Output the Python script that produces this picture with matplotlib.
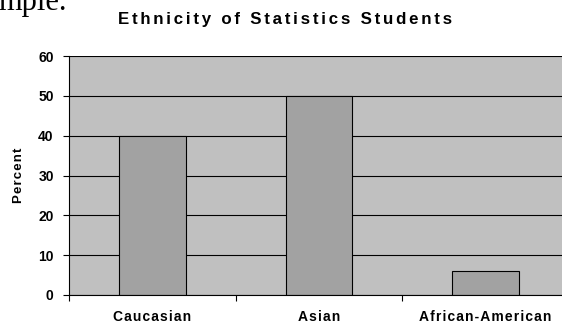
import matplotlib
matplotlib.use('Agg')
import matplotlib.pyplot as plt

# data
groups = ['Caucasian', 'Asian', 'African-American']
percent = [40, 50, 6]
yticks = [0, 10, 20, 30, 40, 50, 60]

plt.rcParams['font.family'] = ['Liberation Sans', 'DejaVu Sans']
plt.rcParams['font.weight'] = 'bold'

def spaced(s, gap='\u200a'):
	# the original chart uses wide letter spacing
	return gap.join(s)

fig = plt.figure(figsize=(5.62, 3.28), dpi=100)
ax = fig.add_axes([69/562, 1 - 295/328, 500/562, 239/328])
ax.set_facecolor('#c0c0c0')

ax.set_axisbelow(True)
ax.yaxis.grid(True, color='black', linewidth=0.8)
ax.bar(range(len(groups)), percent, width=0.4, color='#a2a2a2',
	edgecolor='black', linewidth=0.8, zorder=2)

ax.set_xlim(-0.5, 2.5)
ax.set_ylim(0, 60)
ax.set_yticks(yticks)
ax.set_yticklabels([str(v) for v in yticks], fontsize=10, fontweight='bold')
ax.tick_params(axis='y', length=4, width=0.8, pad=7)

# category separators as major ticks, names as minor ticks
ax.set_xticks([-0.5, 0.5, 1.5, 2.5])
ax.set_xticklabels([])
ax.tick_params(axis='x', which='major', length=4, width=0.8)
ax.set_xticks(range(len(groups)), [spaced(g) for g in groups], minor=True)
ax.tick_params(axis='x', which='minor', length=0, pad=11, labelsize=10)

for sp in ['top', 'right']:
	ax.spines[sp].set_visible(False)
ax.spines['left'].set_linewidth(0.8)
ax.spines['bottom'].set_linewidth(0.8)

fig.text(19/562, 1 - 175/328, spaced('Percent'), rotation=90, ha='center',
	va='center', fontsize=9.5, fontweight='bold')
fig.text(285/562, 1 - 24/328, spaced('Ethnicity of Statistics Students', '\u200a\u200a'),
	ha='center', va='baseline', fontsize=12.2, fontweight='bold')

# leftover text from the surrounding document, cut off at the top
fig.text(-2/562, 1 - 10/328, 'mple.', family='Liberation Serif',
	fontweight='normal', fontsize=22, ha='left', va='baseline')

plt.savefig('out.png', dpi=100)
